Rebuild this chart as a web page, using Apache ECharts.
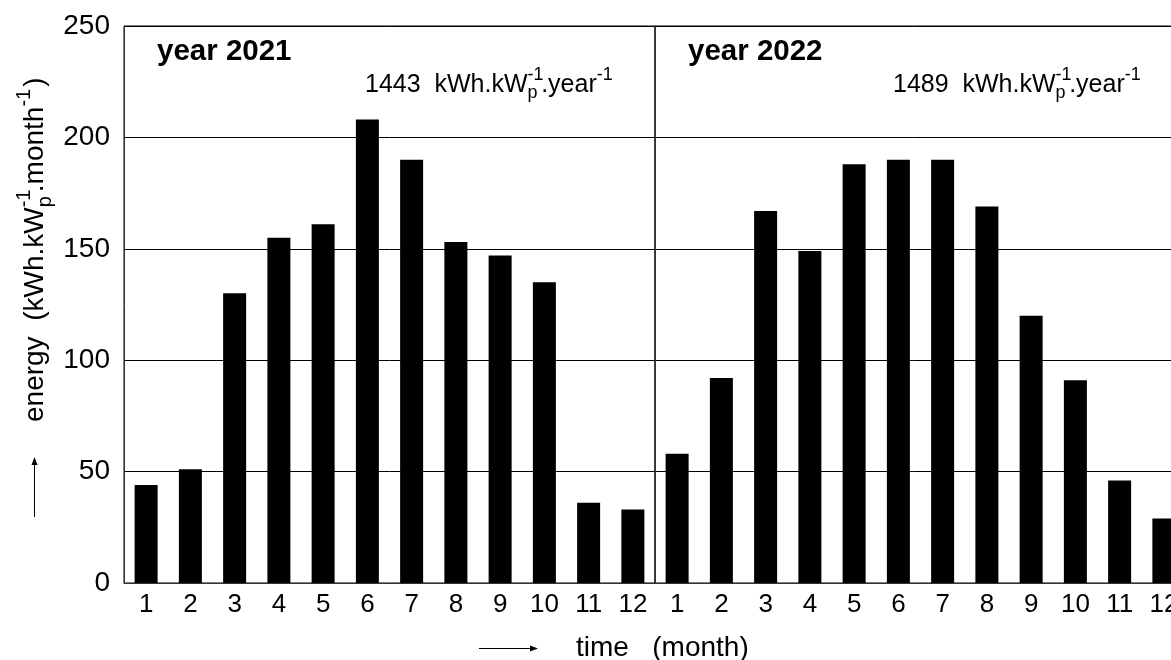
<!DOCTYPE html>
<html><head><meta charset="utf-8">
<script src="https://cdn.jsdelivr.net/npm/echarts@6/dist/echarts.min.js"></script>
<style>html,body{margin:0;padding:0;background:#fff}#c{width:1171px;height:660px}</style>
</head><body><div id="c"></div>
<script>
// ---- data ----
const months = ['1','2','3','4','5','6','7','8','9','10','11','12'];
const energy2021 = [44, 51, 130, 155, 161, 208, 190, 153, 147, 135, 36, 33];
const energy2022 = [58, 92, 167, 149, 188, 190, 190, 169, 120, 91, 46, 29];
const yearLabels = ['year 2021', 'year 2022'];
const yearTotals = ['1443', '1489'];
const yMin = 0, yMax = 250, yStep = 50;

// ---- helpers ----
const FONT = '"Liberation Sans", Arial, sans-serif';
const mctx = document.createElement('canvas').getContext('2d');
function measure(t, size, bold) {
  mctx.font = (bold ? 'bold ' : '') + size + 'px ' + FONT;
  return mctx.measureText(t).width;
}
function richGroup(pieces, x0, y0, rotation) {
  let x = 0, prevStart = 0, prevW = 0;
  const children = [];
  pieces.forEach(p => {
    const w = measure(p.t, p.size, p.bold);
    const px = p.stack ? prevStart : x;
    children.push({
      type: 'text', x: px, y: p.dy || 0,
      style: { text: p.t, fontFamily: FONT, fontSize: p.size, fontWeight: p.bold ? 'bold' : 'normal',
               fill: '#000', align: 'left', verticalAlign: 'middle' }
    });
    if (p.stack) {
      x = prevStart + Math.max(prevW, w) * 0.85 + (p.after || 0);
    } else {
      prevStart = px; prevW = w; x = px + w + (p.after || 0);
    }
  });
  return { type: 'group', x: x0, y: y0, rotation: rotation || 0, silent: true, children };
}
function totalLabel(total, x, y) {
  return richGroup([
    { t: total + '  kWh.kW', size: 25 },
    { t: 'p', size: 18, dy: 8.5 },
    { t: '-1', size: 18, dy: -10, stack: true },
    { t: '.year', size: 25 },
    { t: '-1', size: 18, dy: -10 }
  ], x, y);
}

const chart = echarts.init(document.getElementById('c'), null, { renderer: 'canvas' });

const gridH = 557, gridW = 531, gridTop = 26;
function yAxisCfg(idx, showLabels) {
  return {
    type: 'value', gridIndex: idx, min: yMin, max: yMax, interval: yStep,
    axisLine: { show: true, lineStyle: { color: '#333', width: 1 } },
    axisTick: { show: false },
    axisLabel: { show: showLabels, fontSize: 28, color: '#000', fontFamily: FONT, margin: 14 },
    splitLine: { show: true, lineStyle: { color: '#000', width: 1 } }
  };
}
function xAxisCfg(idx) {
  return {
    type: 'category', gridIndex: idx, data: months, boundaryGap: true,
    axisLine: { show: true, lineStyle: { color: '#333', width: 1 } },
    axisTick: { show: false },
    axisLabel: { fontSize: 26, color: '#000', fontFamily: FONT, margin: 9, interval: 0 },
    splitLine: { show: false }
  };
}

const option = {
  animation: false,
  backgroundColor: '#fff',
  grid: [
    { left: 124, top: gridTop, width: gridW, height: gridH, show: true, borderColor: '#000', borderWidth: 1,
      outerBoundsMode: 'none', containLabel: false },
    { left: 124 + gridW, top: gridTop, width: gridW, height: gridH, show: true, borderColor: '#000', borderWidth: 1,
      outerBoundsMode: 'none', containLabel: false }
  ],
  xAxis: [xAxisCfg(0), xAxisCfg(1)],
  yAxis: [yAxisCfg(0, true), yAxisCfg(1, false)],
  series: [
    { type: 'bar', xAxisIndex: 0, yAxisIndex: 0, data: energy2021, barWidth: 23,
      itemStyle: { color: '#000' } },
    { type: 'bar', xAxisIndex: 1, yAxisIndex: 1, data: energy2022, barWidth: 23,
      itemStyle: { color: '#000' } }
  ],
  graphic: [
    { type: 'text', x: 157, y: 52, silent: true,
      style: { text: yearLabels[0], fontFamily: FONT, fontSize: 29.5, fontWeight: 'bold', fill: '#000', align: 'left', verticalAlign: 'middle' } },
    { type: 'text', x: 688, y: 52, silent: true,
      style: { text: yearLabels[1], fontFamily: FONT, fontSize: 29.5, fontWeight: 'bold', fill: '#000', align: 'left', verticalAlign: 'middle' } },
    totalLabel(yearTotals[0], 365, 85),
    totalLabel(yearTotals[1], 893, 85),
    // y axis name (rotated)
    richGroup([
      { t: 'energy  (kWh.kW', size: 28 },
      { t: 'p', size: 20, dy: 10 },
      { t: '-1', size: 20, dy: -11, stack: true },
      { t: '.month', size: 28 },
      { t: '-1', size: 20, dy: -11, after: 2 },
      { t: ')', size: 28 }
    ], 35, 422, Math.PI / 2),
    // x axis name
    { type: 'text', x: 576, y: 648, silent: true,
      style: { text: 'time   (month)', fontFamily: FONT, fontSize: 28, fill: '#000', align: 'left', verticalAlign: 'middle' } },
    // arrows
    { type: 'line', silent: true, shape: { x1: 34.5, y1: 517, x2: 34.5, y2: 462 }, style: { stroke: '#000', lineWidth: 1 } },
    { type: 'polygon', silent: true, shape: { points: [[34.5, 457], [31.5, 465], [37.5, 465]] }, style: { fill: '#000' } },
    { type: 'line', silent: true, shape: { x1: 479, y1: 648.5, x2: 532, y2: 648.5 }, style: { stroke: '#000', lineWidth: 1 } },
    { type: 'polygon', silent: true, shape: { points: [[538, 648.5], [530, 645.5], [530, 651.5]] }, style: { fill: '#000' } }
  ]
};
chart.setOption(option);
</script>
</body></html>
